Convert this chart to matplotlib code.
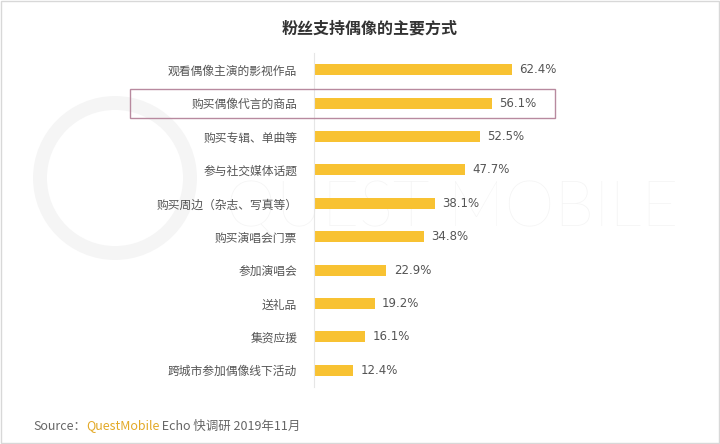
import matplotlib.pyplot as plt
from matplotlib.patches import Rectangle, Ellipse

plt.rcParams['font.family'] = ['Noto Sans CJK SC', 'DejaVu Sans']

# Data
categories = ['观看偶像主演的影视作品', '购买偶像代言的商品', '购买专辑、单曲等', '参与社交媒体话题',
              '购买周边（杂志、写真等）', '购买演唱会门票', '参加演唱会', '送礼品', '集资应援',
              '跨城市参加偶像线下活动']
values = [62.4, 56.1, 52.5, 47.7, 38.1, 34.8, 22.9, 19.2, 16.1, 12.4]
title = '粉丝支持偶像的主要方式'

fig = plt.figure(figsize=(7.2, 4.44), dpi=100)
ax = fig.add_axes([0.436, 0.129, 0.44, 0.751])

# faint watermark behind everything
fig.text(0.628, 0.529, 'QUEST MOBILE', fontsize=46, color='#f4f4f4', ha='center', va='center',
         family='Lato', fontweight='light', zorder=-1)
fig.patches.append(Ellipse((115 / 720, 1 - 178 / 444), 150 / 720, 150 / 444,
                           transform=fig.transFigure, fill=False, ec='#f5f5f5', lw=10, zorder=-1))

y = list(range(len(categories)))
ax.barh(y, values, height=0.33, color='#F8C232', zorder=2)
for yi, v in zip(y, values):
    ax.text(v + 2.3, yi, f'{v}%', va='center', ha='left', fontsize=8.5, color='#555555',
            family='DejaVu Sans')

ax.set_xlim(0, 100)
ax.set_ylim(len(categories) - 0.5, -0.5)
ax.set_yticks(y)
ax.set_yticklabels(categories, fontsize=8.5, color='#555555')
ax.tick_params(axis='y', length=0, pad=12)
ax.set_xticks([])
for s in ['top', 'right', 'bottom']:
    ax.spines[s].set_visible(False)
ax.spines['left'].set_color('#e6e6e6')
ax.spines['left'].set_linewidth(0.8)
ax.patch.set_alpha(0)

fig.text(0.513, 0.935, title, ha='center', va='center', fontsize=11.5, fontweight='bold', color='#333333')

# highlight box around second row
fig.patches.append(Rectangle((130 / 720, 1 - 118 / 444), 425 / 720, 29 / 444,
                             transform=fig.transFigure, fill=False, ec='#b88a9f', lw=1.0))

# figure border
fig.patches.append(Rectangle((0.001, 0.002), 0.997, 0.996, transform=fig.transFigure,
                             fill=False, ec='#d8d8d8', lw=1.0))

# source line, pieces placed one after another
renderer = fig.canvas.get_renderer()
x = 33
parts = [('Source：', '#666666'), ('QuestMobile', '#E3A927'), (' Echo 快调研 2019年11月', '#666666')]
for txt, col in parts:
    t = fig.text(x / 720, 1 - 426 / 444, txt, fontsize=9, color=col, va='center')
    x += t.get_window_extent(renderer).width

fig.savefig('out.png', dpi=100)
